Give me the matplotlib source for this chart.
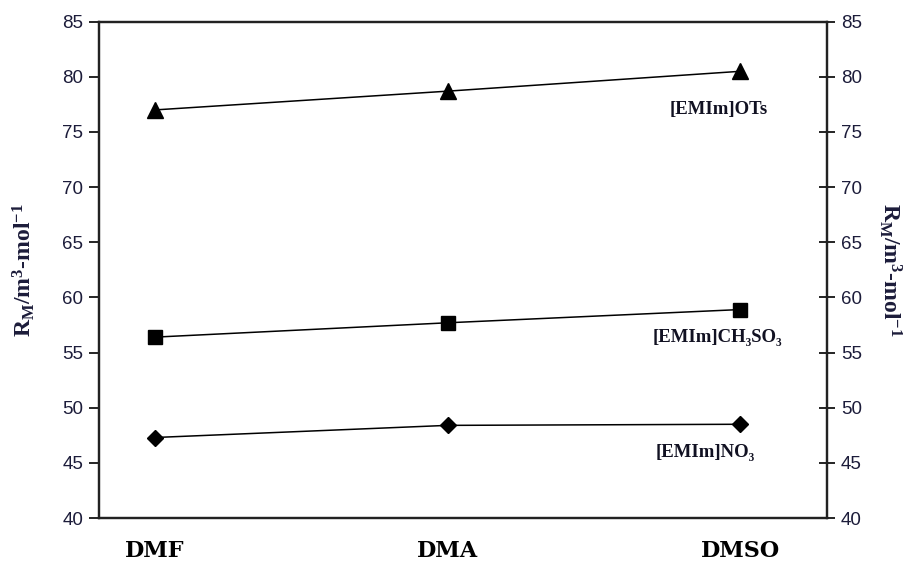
import matplotlib
matplotlib.use("Agg")
import matplotlib.pyplot as plt

categories = ["DMF", "DMA", "DMSO"]
ots = [77.0, 78.7, 80.5]
ch3so3 = [56.4, 57.7, 58.9]
no3 = [47.3, 48.4, 48.5]
series_labels = ["[EMIm]OTs", "[EMIm]CH\u2083SO\u2083", "[EMIm]NO\u2083"]
yticks = [40, 45, 50, 55, 60, 65, 70, 75, 80, 85]

plt.rcParams['mathtext.fontset'] = 'custom'
plt.rcParams['mathtext.rm'] = 'Liberation Serif:bold'
plt.rcParams['mathtext.it'] = 'Liberation Serif:bold'
plt.rcParams['mathtext.bf'] = 'Liberation Serif:bold'

fig = plt.figure(figsize=(9.11, 5.69), dpi=100)
ax = fig.add_axes([0.1083, 0.0896, 0.7995, 0.8723])

x = [1, 2, 3]
ax.plot(x, ots, color='black', lw=1.1, marker='^', ms=11)
ax.plot(x, ch3so3, color='black', lw=1.1, marker='s', ms=10)
ax.plot(x, no3, color='black', lw=1.1, marker='D', ms=8)

ax.set_xlim(0.8075, 3.297)
ax.set_ylim(40, 85)
ax.set_yticks(yticks)
ax.set_xticks(x)
ax.set_xticklabels(categories, fontfamily='DejaVu Serif', fontweight='bold', fontsize=16)
ax.tick_params(axis='x', length=0, pad=16)
ax.tick_params(axis='y', direction='out', length=7, width=1.2, labelsize=13.5, pad=4)
for lab in ax.get_yticklabels():
    lab.set_fontfamily('Liberation Sans')
    lab.set_color('#1c1c3a')
for sp in ax.spines.values():
    sp.set_linewidth(1.6)
    sp.set_color('#222222')

ylab = 'R$_\\mathrm{M}$/m$^\\mathrm{3}$-mol$^\\mathrm{-1}$'
ax.set_ylabel(ylab, fontfamily='Liberation Serif', fontweight='bold', fontsize=17, labelpad=18, color='#1c1c3a')

ax2 = ax.twinx()
ax2.set_ylim(40, 85)
ax2.set_yticks(yticks)
ax2.tick_params(axis='y', direction='inout', length=12, width=1.2, labelsize=13.5, pad=4)
for lab in ax2.get_yticklabels():
    lab.set_fontfamily('Liberation Sans')
    lab.set_color('#1c1c3a')
for sp in ax2.spines.values():
    sp.set_linewidth(1.6)
    sp.set_color('#222222')
ax2.set_ylabel(ylab, fontfamily='Liberation Serif', fontweight='bold', fontsize=17, labelpad=11,
               rotation=-90, va='bottom', color='#1c1c3a')

lab_fam = ['Liberation Serif', 'DejaVu Serif']
ax.text(3.096, 77.08, series_labels[0], ha='right', va='center', fontfamily=lab_fam,
        fontweight='bold', fontsize=13.5, color='#111122')
ax.text(3.144, 56.4, series_labels[1], ha='right', va='center', fontfamily=lab_fam,
        fontweight='bold', fontsize=13.5, color='#111122')
ax.text(3.051, 45.93, series_labels[2], ha='right', va='center', fontfamily=lab_fam,
        fontweight='bold', fontsize=13.5, color='#111122')

fig.savefig('out.png', dpi=100)
